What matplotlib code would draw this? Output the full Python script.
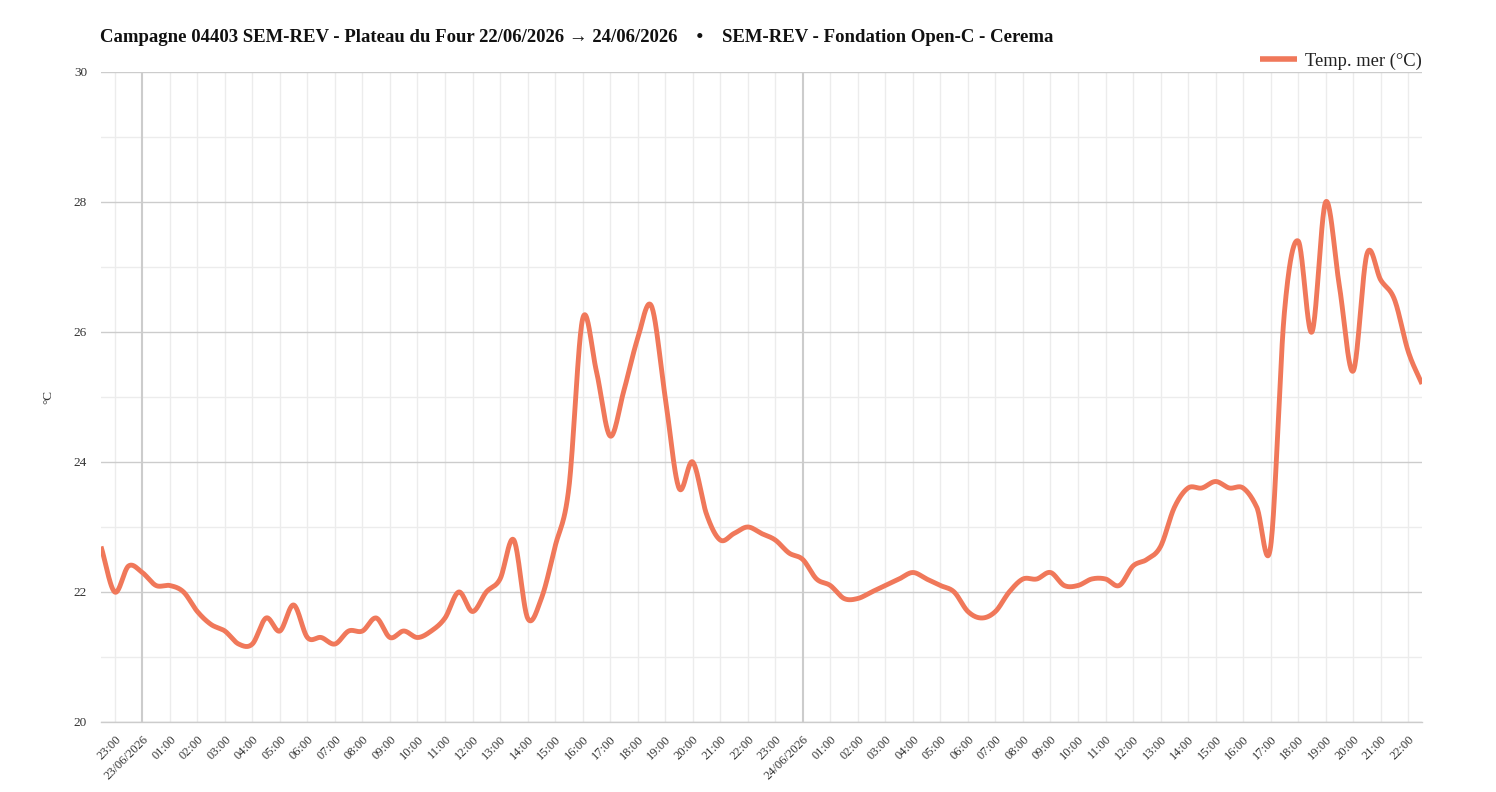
import numpy as np
import pandas as pd
import matplotlib
matplotlib.use("Agg")
import matplotlib.pyplot as plt
import matplotlib.dates as mdates

plt.rcParams['font.family'] = ['Liberation Serif', 'DejaVu Serif']

# ---------------- data ----------------
title = ("Campagne 04403 SEM-REV - Plateau du Four 22/06/2026 \u2192 24/06/2026"
         "    \u2022    SEM-REV - Fondation Open-C - Cerema")
series_name = "Temp. mer (\u00b0C)"
y_label = "\u00b0C"

start_time = "2026-06-22 22:30"
step = "30min"

temp_22 = [22.7, 22.0, 22.4]  # 22:30 .. 23:30 (22/06)
temp_23 = [22.3, 22.1, 22.1, 22.0, 21.7, 21.5, 21.4, 21.2,   # 00:00 .. 03:30
           21.2, 21.6, 21.4, 21.8, 21.3, 21.3, 21.2, 21.4,   # 04:00 .. 07:30
           21.4, 21.6, 21.3, 21.4, 21.3, 21.4, 21.6, 22.0,   # 08:00 .. 11:30
           21.7, 22.0, 22.2, 22.8, 21.6, 21.9, 22.7, 23.6,   # 12:00 .. 15:30
           26.2, 25.4, 24.4, 25.1, 25.9, 26.4, 25.0, 23.6,   # 16:00 .. 19:30
           24.0, 23.2, 22.8, 22.9, 23.0, 22.9, 22.8, 22.6]   # 20:00 .. 23:30
temp_24 = [22.5, 22.2, 22.1, 21.9, 21.9, 22.0, 22.1, 22.2,   # 00:00 .. 03:30
           22.3, 22.2, 22.1, 22.0, 21.7, 21.6, 21.7, 22.0,   # 04:00 .. 07:30
           22.2, 22.2, 22.3, 22.1, 22.1, 22.2, 22.2, 22.1,   # 08:00 .. 11:30
           22.4, 22.5, 22.7, 23.3, 23.6, 23.6, 23.7, 23.6,   # 12:00 .. 15:30
           23.6, 23.3, 22.7, 26.3, 27.4, 26.0, 28.0, 26.7,   # 16:00 .. 19:30
           25.4, 27.2, 26.8, 26.5, 25.7, 25.2]               # 20:00 .. 22:30
temps = temp_22 + temp_23 + temp_24

times = pd.date_range(start_time, periods=len(temps), freq=step)

y_min, y_max = 20, 30
y_major = [20, 22, 24, 26, 28, 30]
y_minor = [21, 23, 25, 27, 29]

tick_times = pd.date_range("2026-06-22 23:00", "2026-06-24 22:00", freq="1h")
tick_labels = [t.strftime("%d/%m/%Y") if t.hour == 0 else t.strftime("%H:%M")
               for t in tick_times]

line_color = "#F0785A"

# ---------------- smoothing (Catmull-Rom through the data points) ----------------
xn = mdates.date2num(times.to_pydatetime())
yn = np.asarray(temps, dtype=float)
n = len(xn)
m = np.zeros(n)
m[1:-1] = (yn[2:] - yn[:-2]) / 2.0
m[0] = yn[1] - yn[0]
m[-1] = yn[-1] - yn[-2]
xs, ys = [], []
for i in range(n - 1):
    s = np.linspace(0, 1, 25, endpoint=(i == n - 2))
    h00 = 2 * s**3 - 3 * s**2 + 1
    h10 = s**3 - 2 * s**2 + s
    h01 = -2 * s**3 + 3 * s**2
    h11 = s**3 - s**2
    ys.append(h00 * yn[i] + h10 * m[i] + h01 * yn[i + 1] + h11 * m[i + 1])
    xs.append(xn[i] + s * (xn[i + 1] - xn[i]))
xs = np.concatenate(xs)
ys = np.concatenate(ys)

# ---------------- figure ----------------
W, H = 1496, 792
fig = plt.figure(figsize=(W / 100, H / 100), dpi=100)
L, R, T, B = 101, 1422, 72, 722
ax = fig.add_axes([L / W, 1 - B / H, (R - L) / W, (B - T) / H])

ax.set_xlim(xn[0], xn[-1])
ax.set_ylim(y_min, y_max)

# grid lines
for t in tick_times:
    tx = mdates.date2num(t.to_pydatetime())
    if t.hour == 0:
        ax.axvline(tx, color="#cccccc", lw=1.5, zorder=1)
    else:
        ax.axvline(tx, color="#ececec", lw=1.0, zorder=0)
for v in y_minor:
    ax.axhline(v, color="#ececec", lw=1.0, zorder=0)
for v in y_major:
    ax.axhline(v, color="#cccccc", lw=1.0, zorder=1)

ax.plot(xs, ys, color=line_color, lw=3.5, solid_capstyle="butt",
        solid_joinstyle="round", zorder=3, label=series_name)

for sp in ["top", "right", "left"]:
    ax.spines[sp].set_visible(False)
ax.spines["bottom"].set_color("#cccccc")
ax.spines["bottom"].set_linewidth(1.0)

ax.set_yticks(y_major)
ax.set_yticklabels([str(v) for v in y_major])
ax.tick_params(axis="y", length=0, pad=10, labelsize=9.5, labelcolor="#333333")

ax.set_xticks(mdates.date2num(tick_times.to_pydatetime()))
ax.set_xticklabels(tick_labels, rotation=45, ha="right", rotation_mode="anchor")
ax.tick_params(axis="x", length=0, pad=8, labelsize=9, labelcolor="#333333")

fig.text(48 / W, 1 - 397 / H, y_label, rotation=90, ha="center", va="center",
         fontsize=9.5, color="#333333")

fig.text(100 / W, 1 - 37 / H, title, ha="left", va="center",
         fontsize=13.5, fontweight="bold", color="#111111")

leg = ax.legend(loc="lower right", bbox_to_anchor=(1.0, 1.0 + 2 / 650),
                frameon=False, fontsize=13.3, handlelength=2.0, handletextpad=0.43,
                borderpad=0, borderaxespad=0)
for lh in leg.get_lines():
    lh.set_linewidth(4)
for txt in leg.get_texts():
    txt.set_color("#222222")

fig.savefig("out.png", dpi=100, facecolor="white")
